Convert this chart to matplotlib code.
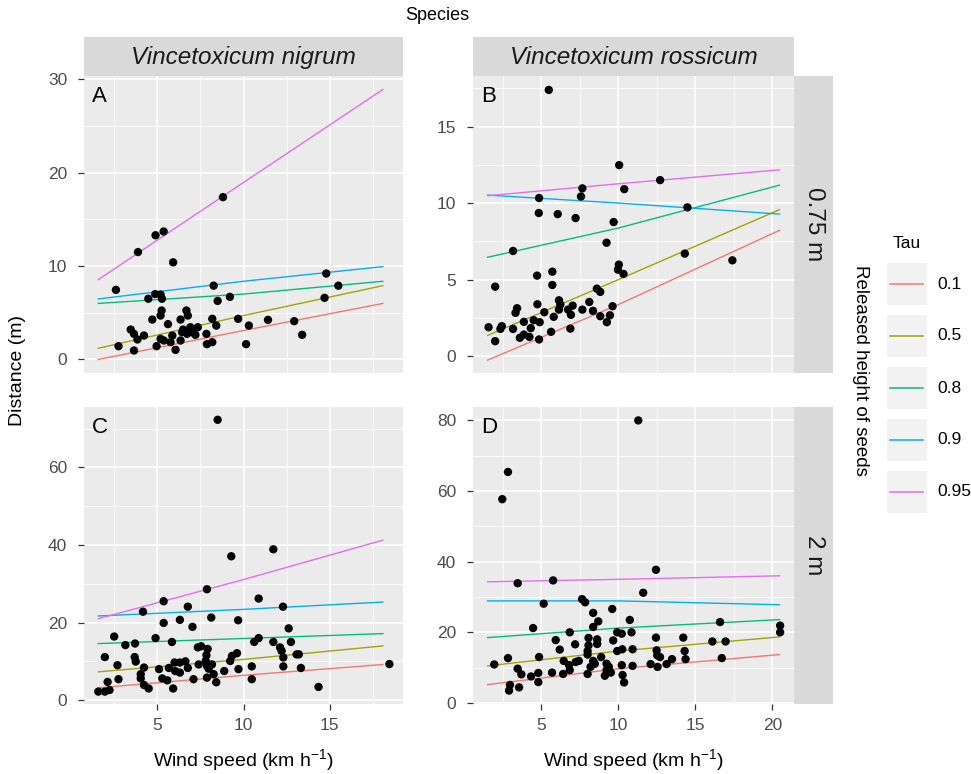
import matplotlib
matplotlib.use("Agg")
import matplotlib.pyplot as plt
from matplotlib.lines import Line2D
from matplotlib.patches import Rectangle

plt.rcParams['font.family'] = ['Liberation Sans', 'DejaVu Sans']
plt.rcParams['mathtext.fontset'] = 'custom'
plt.rcParams['mathtext.rm'] = 'Liberation Sans'
plt.rcParams['mathtext.default'] = 'regular'

# quantile levels and their colours
taus = ["0.1", "0.5", "0.8", "0.9", "0.95"]
tau_colors = ["#F8766D", "#A3A500", "#00BF7D", "#00B0F6", "#E76BF3"]

species = ["Vincetoxicum nigrum", "Vincetoxicum rossicum"]
heights = ["0.75 m", "2 m"]

# A: V. nigrum, 0.75 m
a_wind = [8.81, 4.9, 5.37, 3.88, 5.92, 2.6, 14.8, 15.5, 14.7, 8.27, 4.48, 4.88, 5.19, 5.27, 8.5, 9.21,
          5.25, 5.19, 4.71, 6.69, 6.77, 6.35, 5.62, 3.46, 3.65, 4.23, 3.85, 2.75, 3.65, 4.96, 6.06, 5.38,
          5.87, 6.44, 6.92, 7.35, 7.21, 6.73, 6.35, 5.77, 7.85, 7.88, 8.19, 8.19, 8.42, 9.69, 10.31, 10.15,
          11.42, 12.94, 13.4, 5.19, 7.0, 6.5]
a_dist = [17.38, 13.3, 13.7, 11.5, 10.4, 7.45, 9.2, 7.9, 6.6, 7.9, 6.5, 7.0, 6.95, 6.5, 6.27, 6.7,
          5.24, 4.7, 4.27, 5.24, 4.7, 4.27, 3.78, 3.2, 2.74, 2.56, 2.14, 1.42, 0.96, 1.42, 1.03, 2.03,
          2.56, 2.92, 3.45, 3.45, 2.64, 2.74, 2.03, 1.85, 2.74, 1.64, 1.85, 4.35, 3.63, 4.35, 3.63, 1.64,
          4.24, 4.1, 2.64, 2.2, 2.92, 3.2]

# B: V. rossicum, 0.75 m
b_wind = [5.48, 10.05, 12.71, 10.38, 7.66, 7.57, 4.85, 4.83, 6.06, 7.22, 14.48, 9.69, 9.23, 3.16, 14.31,
          17.4, 10.03, 9.97, 10.33, 4.72, 5.71, 5.71, 2.0, 8.6, 8.82, 6.14, 6.23, 4.74, 3.42, 3.32, 5.19,
          7.03, 6.73, 6.92, 6.14, 7.66, 8.11, 8.35, 8.82, 9.45, 9.62, 9.25, 5.8, 3.86, 4.5, 4.89, 4.31,
          3.16, 2.43, 1.57, 2.0, 3.6, 3.86, 4.22, 4.85, 5.63, 6.88, 2.34]
b_dist = [17.39, 12.48, 11.5, 10.91, 10.96, 10.43, 10.33, 9.35, 9.28, 9.02, 9.72, 8.76, 7.41, 6.87, 6.7,
          6.26, 5.98, 5.65, 5.37, 5.26, 5.52, 4.65, 4.54, 4.41, 4.2, 3.65, 3.37, 3.39, 3.13, 2.83, 2.87,
          3.3, 3.04, 2.7, 3.04, 3.04, 3.54, 2.96, 2.61, 2.67, 3.26, 2.22, 2.57, 2.24, 2.35, 2.22, 1.83,
          1.78, 1.96, 1.89, 0.98, 1.2, 1.41, 1.26, 1.09, 1.59, 1.8, 1.78]

# C: V. nigrum, 2 m
c_wind = [8.5, 11.73, 9.29, 7.88, 10.88, 5.37, 4.17, 6.77, 12.29, 8.13, 6.31, 9.69, 5.37, 7.04, 12.62,
          2.5, 4.9, 5.85, 3.15, 3.71, 10.88, 10.62, 11.73, 12.75, 7.35, 7.54, 7.92, 12.12, 12.21, 1.96,
          3.69, 3.75, 7.85, 7.81, 9.62, 9.33, 9.23, 12.31, 13.08, 13.21, 2.69, 4.23, 5.1, 5.67, 6.0, 6.31,
          6.63, 6.77, 7.4, 7.88, 8.17, 7.98, 9.71, 8.88, 10.48, 12.31, 13.33, 18.46, 4.04, 4.04, 2.75,
          5.29, 5.58, 7.1, 7.88, 8.27, 10.48, 2.12, 4.23, 4.5, 5.92, 8.42, 14.35, 1.58, 1.96, 2.23, 6.04,
          6.31]
c_dist = [72.3, 38.9, 37.1, 28.6, 26.2, 25.5, 22.8, 24.1, 24.1, 21.3, 20.7, 20.6, 19.9, 18.9, 18.5,
          16.4, 16.0, 15.0, 14.2, 14.6, 16.0, 15.0, 15.0, 15.0, 13.6, 13.9, 13.2, 13.6, 12.7, 11.1,
          11.1, 9.95, 11.6, 10.1, 12.1, 11.4, 10.1, 11.0, 11.8, 11.8, 9.0, 8.4, 8.0, 8.3, 9.7, 9.7,
          10.0, 8.3, 9.2, 8.8, 9.2, 8.1, 8.0, 7.5, 8.7, 8.7, 8.3, 9.3, 6.7, 5.6, 5.4,
          5.6, 5.1, 5.4, 5.8, 6.7, 5.4, 4.7, 3.9, 3.0, 3.0, 4.6, 3.4, 2.2, 2.2, 2.6, 7.5,
          7.1]

# D: V. rossicum, 2 m
d_wind = [11.29, 2.83, 2.46, 12.44, 5.76, 3.46, 11.61, 7.64, 7.84, 5.15, 9.6, 8.36, 8.69, 10.74, 16.6,
          20.5, 20.5, 4.46, 6.84, 8.36, 9.92, 10.22, 10.85, 5.93, 7.19, 8.06, 8.06, 8.62, 8.62, 9.66,
          12.44, 14.21, 16.1, 16.96, 6.19, 8.0, 8.0, 9.92, 10.25, 10.92, 12.48, 12.52, 12.7, 14.3, 14.36,
          16.71, 2.83, 4.85, 6.45, 6.8, 7.23, 7.43, 8.36, 8.47, 8.88, 9.23, 9.38, 10.22, 10.92, 12.09,
          12.54, 13.13, 13.48, 1.94, 3.46, 3.7, 4.33, 4.8, 4.8, 5.69, 6.41, 6.84, 8.0, 8.19, 9.12, 9.51,
          10.27, 10.37, 2.96, 2.9, 3.55, 9.23]
d_dist = [80.0, 65.4, 57.7, 37.7, 34.7, 33.9, 31.2, 29.4, 28.5, 28.1, 26.6, 25.5, 23.1, 23.5, 22.9,
          21.9, 20.0, 21.2, 20.0, 21.5, 20.0, 19.6, 20.0, 17.8, 16.6, 18.4, 16.3, 18.0, 16.7, 17.7,
          18.5, 18.5, 17.4, 17.4, 15.1, 14.7, 13.7, 14.7, 15.2, 15.2, 14.9, 13.5, 13.0, 14.7, 12.4,
          12.7, 12.7, 13.0, 11.9, 10.7, 11.6, 11.9, 11.9, 11.1, 13.0, 11.1, 10.2, 10.7, 10.5, 11.0,
          10.2, 11.0, 12.4, 10.9, 9.7, 8.1, 7.5, 8.5, 5.9, 8.6, 8.2, 9.3, 8.2, 10.2, 7.7, 8.6,
          7.9, 5.8, 5.1, 3.5, 4.4, 9.3]

# fitted quantile lines (start, x=10, end), rows in tau order
nigrum_fit_x = [1.58, 10.0, 18.08]
rossicum_fit_x = [1.51, 10.0, 20.46]
a_fit = [[0.0, 3.1, 6.0], [1.2, 4.7, 7.9], [6.0, 7.0, 8.37], [6.48, 8.37, 9.94], [8.55, 18.95, 28.9]]
b_fit = [[-0.26, 3.37, 8.22], [1.35, 5.0, 9.57], [6.46, 8.37, 11.17], [10.52, 10.0, 9.28], [10.48, 11.26, 12.17]]
c_fit = [[3.17, 6.4, 9.18], [7.29, 10.5, 13.98], [14.58, 15.9, 17.15], [21.7, 23.4, 25.3], [21.0, 31.1, 41.25]]
d_fit = [[5.2, 9.7, 13.7], [10.5, 14.7, 18.7], [18.5, 21.2, 23.6], [28.9, 28.9, 27.8], [34.3, 35.0, 36.0]]

W, H = 971, 774


def rect(x0, y0, x1, y1):
    # pixel box -> figure fraction
    return [x0 / W, 1 - y1 / H, (x1 - x0) / W, (y1 - y0) / H]


fig = plt.figure(figsize=(W / 100, H / 100), dpi=100)

panels = [
    ("A", rect(84, 76, 403, 373), a_wind, a_dist, nigrum_fit_x, a_fit, (0.75, 19.25), (-1.45, 30.35),
     [0, 10, 20, 30], [5, 15, 25], [5, 10, 15], [2.5, 7.5, 12.5, 17.5], False),
    ("B", rect(473, 76, 794, 373), b_wind, b_dist, rossicum_fit_x, b_fit, (0.56, 21.4), (-1.1, 18.3),
     [0, 5, 10, 15], [2.5, 7.5, 12.5, 17.5], [5, 10, 15, 20], [2.5, 7.5, 12.5, 17.5], False),
    ("C", rect(84, 407, 403, 704), c_wind, c_dist, nigrum_fit_x, c_fit, (0.75, 19.25), (-1.0, 75.6),
     [0, 20, 40, 60], [10, 30, 50, 70], [5, 10, 15], [2.5, 7.5, 12.5, 17.5], True),
    ("D", rect(473, 407, 794, 704), d_wind, d_dist, rossicum_fit_x, d_fit, (0.56, 21.4), (-0.3, 83.8),
     [0, 20, 40, 60, 80], [10, 30, 50, 70], [5, 10, 15, 20], [2.5, 7.5, 12.5, 17.5], True),
]

for (lab, box, xs, ys, fx, fits, xlim, ylim, yt, ymt, xt, xmt, show_x) in panels:
    ax = fig.add_axes(box)
    ax.set_facecolor("#EBEBEB")
    for s in ax.spines.values():
        s.set_visible(False)
    ax.set_xlim(*xlim)
    ax.set_ylim(*ylim)
    ax.set_yticks(yt)
    ax.set_yticks(ymt, minor=True)
    ax.set_xticks(xt)
    ax.set_xticks(xmt, minor=True)
    ax.grid(True, which="major", color="white", lw=1.1)
    ax.grid(True, which="minor", color="white", lw=0.55)
    ax.set_axisbelow(True)
    ax.tick_params(which="minor", length=0)
    ax.tick_params(axis="y", which="major", length=4, width=0.9, color="#333333",
                   labelsize=12.5, labelcolor="#4D4D4D", pad=8)
    if show_x:
        ax.tick_params(axis="x", which="major", length=4, width=0.9, color="#333333",
                       labelsize=12.5, labelcolor="#4D4D4D", pad=6)
        ax.set_xlabel("Wind speed (km h$^{-1}$)", fontsize=14, labelpad=10)
    else:
        ax.tick_params(axis="x", which="major", length=0, labelbottom=False)
    for ty, col in zip(fits, tau_colors):
        ax.plot(fx, ty, color=col, lw=1.0, zorder=2)
    ax.scatter(xs, ys, s=36, color="black", edgecolors="none", zorder=3)
    ax.text(0.025, 0.965, lab, transform=ax.transAxes, ha="left", va="top", fontsize=16)

# top strips
for name, (x0, x1) in zip(species, [(84, 403), (473, 794)]):
    sax = fig.add_axes(rect(x0, 37, x1, 76))
    sax.set_facecolor("#D9D9D9")
    sax.set_xticks([])
    sax.set_yticks([])
    for s in sax.spines.values():
        s.set_visible(False)
    sax.text(0.5, 0.48, name, transform=sax.transAxes, ha="center", va="center",
             fontsize=17.5, style="italic", color="#1A1A1A")

# right strips
for hname, (y0, y1) in zip(heights, [(76, 373), (407, 704)]):
    sax = fig.add_axes(rect(794, y0, 833, y1))
    sax.set_facecolor("#D9D9D9")
    sax.set_xticks([])
    sax.set_yticks([])
    for s in sax.spines.values():
        s.set_visible(False)
    sax.text(0.5, 0.5, hname, transform=sax.transAxes, ha="center", va="center",
             fontsize=17.5, rotation=270, color="#1A1A1A")

fig.text(437 / W, 1 - 15 / H, "Species", ha="center", va="center", fontsize=13)
fig.text(18 / W, 1 - 370 / H, "Distance (m)", ha="center", va="center", fontsize=14, rotation=90)
fig.text(860 / W, 1 - 370 / H, "Released height of seeds", ha="center", va="center",
         fontsize=13.5, rotation=270)

# legend
fig.text(907 / W, 1 - 244 / H, "Tau", ha="center", va="center", fontsize=12.5)
for i, (t, col) in enumerate(zip(taus, tau_colors)):
    cy = 284 + i * 52
    fig.patches.append(Rectangle((887 / W, 1 - (cy + 21) / H), 40 / W, 42 / H,
                                 transform=fig.transFigure, facecolor="#F2F2F2", edgecolor="none"))
    fig.lines.append(Line2D([890 / W, 923 / W], [1 - cy / H, 1 - cy / H],
                            transform=fig.transFigure, color=col, lw=1.1))
    fig.text(937 / W, 1 - cy / H, t, ha="left", va="center", fontsize=12.5)

fig.savefig("out.png", dpi=100)
